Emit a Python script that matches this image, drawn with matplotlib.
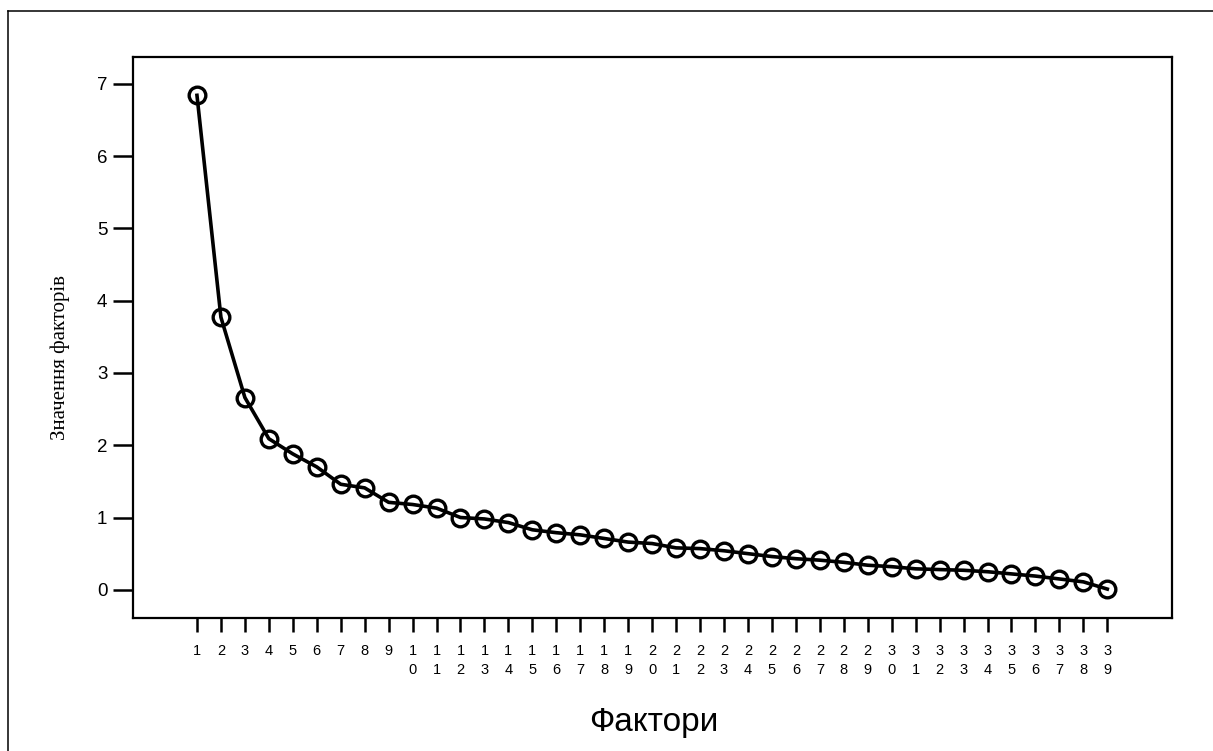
import matplotlib
matplotlib.use("Agg")
import matplotlib.pyplot as plt
from matplotlib.lines import Line2D

factors = list(range(1, 40))
values = [6.84, 3.77, 2.66, 2.09, 1.88, 1.70, 1.46, 1.41, 1.21, 1.18,
          1.13, 1.00, 0.98, 0.93, 0.83, 0.79, 0.76, 0.71, 0.66, 0.64,
          0.58, 0.57, 0.54, 0.50, 0.46, 0.43, 0.41, 0.38, 0.34, 0.32,
          0.29, 0.28, 0.27, 0.25, 0.22, 0.19, 0.15, 0.11, 0.01]
tick_labels = ["\n".join(str(f)) for f in factors]
y_ticks = [0, 1, 2, 3, 4, 5, 6, 7]
x_title = "Фактори"
y_title = "Значення факторів"

W, H = 1213, 751
fig = plt.figure(figsize=(W / 100, H / 100), dpi=100)
ax = fig.add_axes([133 / W, 1 - 618 / H, (1172 - 133) / W, (618 - 57) / H])

ax.plot(factors, values, color="black", lw=2.6, marker="o", markersize=12,
        markerfacecolor="none", markeredgecolor="black", markeredgewidth=2.4,
        solid_joinstyle="round")

ax.set_xlim(-1.67, 41.7)
ax.set_ylim(-0.39, 7.37)
ax.set_yticks(y_ticks)
ax.set_yticklabels([str(v) for v in y_ticks], fontsize=13.5, family="Liberation Sans")
ax.set_xticks(factors)
ax.set_xticklabels(tick_labels, fontsize=10.5, family="Liberation Sans", linespacing=1.5,
                   va="top")
ax.tick_params(axis="y", direction="out", length=14.5, width=1.8, pad=4)
ax.tick_params(axis="x", direction="out", length=10, width=1.8, pad=8.5)
for s in ax.spines.values():
    s.set_linewidth(1.6)

fig.text(654 / W, 1 - 722 / H, x_title, ha="center", va="center",
         fontsize=24, family="Liberation Sans")
fig.text(60 / W, 1 - 357 / H, y_title, ha="center", va="center", rotation=90,
         fontsize=15, family="Liberation Serif")

# outer frame (top and left edges)
fig.add_artist(Line2D([8 / W, 8 / W], [0, 1 - 11 / H], transform=fig.transFigure,
                      color="black", lw=1.1))
fig.add_artist(Line2D([8 / W, 1], [1 - 11 / H, 1 - 11 / H], transform=fig.transFigure,
                      color="black", lw=1.1))

fig.savefig("out.png", dpi=100, facecolor="white")
